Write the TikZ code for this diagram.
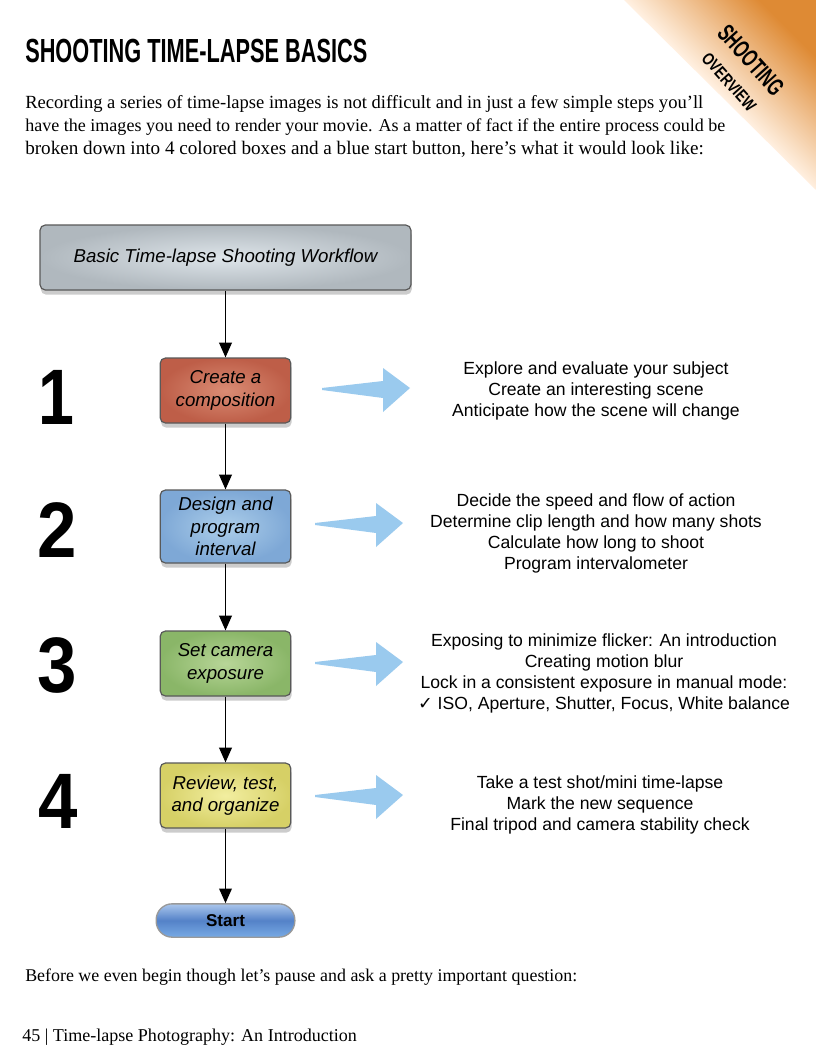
\documentclass[tikz,border=0pt]{standalone}
\usepackage{fontspec}
\setmainfont{Liberation Serif}
\setsansfont{Liberation Sans}
\newfontfamily\checkfont{DejaVu Sans}
\usepackage{xcolor}
\usetikzlibrary{arrows.meta,positioning,shadows}

\definecolor{cornerorange}{RGB}{222,138,52}
\definecolor{arrowblue}{RGB}{154,202,238}
\definecolor{grayin}{RGB}{222,229,234}
\definecolor{grayout}{RGB}{176,184,190}
\definecolor{redin}{RGB}{218,140,116}
\definecolor{redout}{RGB}{190,94,72}
\definecolor{bluein}{RGB}{172,206,234}
\definecolor{blueout}{RGB}{126,168,214}
\definecolor{greenin}{RGB}{184,214,152}
\definecolor{greenout}{RGB}{138,182,104}
\definecolor{yellowin}{RGB}{242,238,160}
\definecolor{yellowout}{RGB}{214,208,102}
\definecolor{startmid}{RGB}{84,130,200}
\definecolor{starttop}{RGB}{170,198,236}
\definecolor{startbot}{RGB}{120,170,228}

\begin{document}
\begin{tikzpicture}[x=0.75pt, y=-0.75pt,
  para/.style={anchor=base west, inner sep=0pt, font=\fontsize{13}{15}\selectfont},
  num/.style={anchor=base, inner sep=0pt, font=\sffamily\bfseries\fontsize{59}{59}\selectfont},
  stepbox/.style={draw=black!65, line width=0.9pt, rounded corners=4pt,
                  minimum width=98pt, minimum height=48.75pt, align=center,
                  font=\sffamily\itshape\fontsize{14}{17}\selectfont,
                  drop shadow={shadow xshift=0.6pt, shadow yshift=-3.5pt, opacity=0.4}},
  startbtn/.style={draw=black!40, line width=1pt, rounded corners=12pt,
                   minimum width=104pt, minimum height=25pt,
                   top color=starttop, bottom color=startbot, middle color=startmid,
                   font=\sffamily\bfseries\fontsize{12.8}{14}\selectfont},
  note/.style={align=center, font=\sffamily\fontsize{13.2}{15.75}\selectfont},
  flow/.style={-{Triangle[length=11pt,width=9.5pt]}, line width=1.1pt},
  fatarrow/.pic={\fill[arrowblue] (-88,0) -- (-27,-7) -- (-27,-20) -- (0,0)
                   -- (-27,24) -- (-27,10) -- (-88,2) -- cycle;}
]
% Page
\fill[white] (0,0) rectangle (816,1056);
\useasboundingbox (0,0) rectangle (816,1056);

% Corner tab
\shade[top color=cornerorange, bottom color=white, middle color=orange!12!white, shading angle=-45]
  (624,0) -- (816,0) -- (816,190) -- cycle;
\node[rotate=-48, inner sep=0pt] (tag1) at (751,60) {\resizebox{64pt}{13pt}{\sffamily\bfseries SHOOTING}};
\node[rotate=-48, inner sep=0pt] (tag2) at (729,82) {\resizebox{54pt}{9pt}{\sffamily\bfseries OVERVIEW}};

% Heading and text
\node[anchor=base west, inner sep=0pt] (title) at (25,62.7)
  {\resizebox{256.5pt}{17.5pt}{\sffamily\bfseries SHOOTING TIME-LAPSE BASICS}};
\node[para] (p1) at (25,108) {\resizebox{508.5pt}{!}{Recording a series of time-lapse images is not difficult and in just a few simple steps you’ll}};
\node[para] (p2) at (25,131) {\resizebox{525pt}{!}{have the images you need to render your movie. As a matter of fact if the entire process could be}};
\node[para] (p3) at (25,154) {\resizebox{509pt}{!}{broken down into 4 colored boxes and a blue start button, here’s what it would look like:}};
\node[para] (p4) at (25,981) {\resizebox{414pt}{!}{Before we even begin though let’s pause and ask a pretty important question:}};
\node[para] (foot) at (22,1041) {\resizebox{251pt}{!}{45 | Time-lapse Photography: An Introduction}};

% Step numbers
\node[num] (n1) at (56,424) {\scalebox{0.82}[1]{1}};
\node[num] (n2) at (57,557) {\scalebox{0.9}[1]{2}};
\node[num] (n3) at (57.5,692) {\scalebox{0.9}[1]{3}};
\node[num] (n4) at (58.5,828) {\scalebox{0.9}[1]{4}};

% Workflow boxes
\node[stepbox, minimum width=278.25pt, inner color=grayin, outer color=grayout] (head) at (225.5,257.5) {Basic Time-lapse Shooting Workflow};
\node[stepbox, inner color=redin, outer color=redout] (box1) at (225.5,390.5) {Create a\\composition};
\node[stepbox, minimum height=54.75pt, inner color=bluein, outer color=blueout] (box2) at (225.5,526.5) {Design and\\program\\interval};
\node[stepbox, inner color=greenin, outer color=greenout] (box3) at (225.5,663.5) {Set camera\\exposure};
\node[stepbox, inner color=yellowin, outer color=yellowout] (box4) at (225.5,795.5) {Review, test,\\and organize};
\node[startbtn] (start) at (225.5,920.5) {Start};

\foreach \a/\b in {head/box1,box1/box2,box2/box3,box3/box4,box4/start}
  \draw[flow] (\a) -- (\b);

% Blue arrows
\pic at (410,388) {fatarrow};
\pic at (403,523) {fatarrow};
\pic at (403,662) {fatarrow};
\pic at (403,795) {fatarrow};

% Notes
\node[note] (t1) at (596,391) {Explore and evaluate your subject\\Create an interesting scene\\Anticipate how the scene will change};
\node[note] (t2) at (596,533) {Decide the speed and flow of action\\Determine clip length and how many shots\\Calculate how long to shoot\\Program intervalometer};
\node[note] (t3) at (604,673.5) {Exposing to minimize flicker: An introduction\\Creating motion blur\\Lock in a consistent exposure in manual mode:\\{\checkfont ✓} ISO, Aperture, Shutter, Focus, White balance};
\node[note] (t4) at (600,805) {Take a test shot/mini time-lapse\\Mark the new sequence\\Final tripod and camera stability check};

\end{tikzpicture}
\end{document}
